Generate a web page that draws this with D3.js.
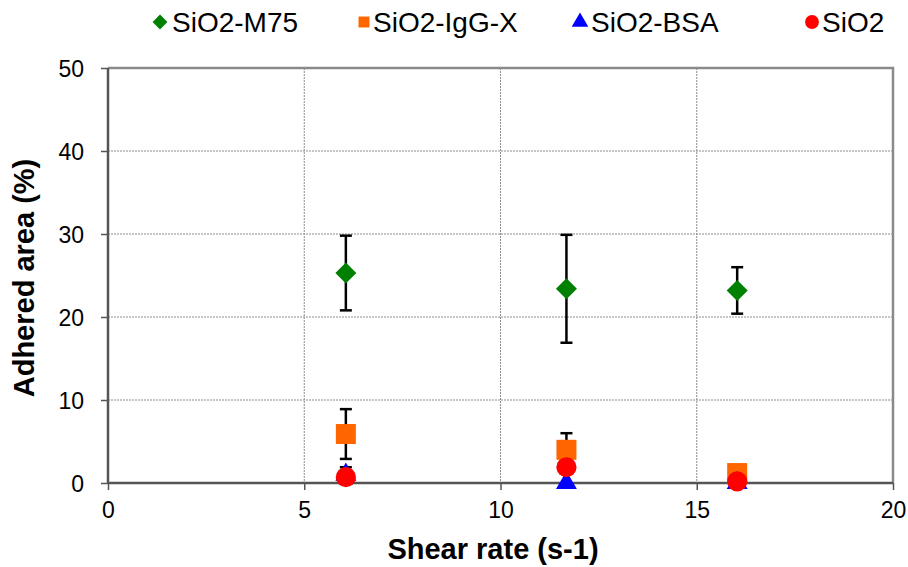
<!DOCTYPE html>
<html>
<head>
<meta charset="utf-8">
<script src="https://cdn.jsdelivr.net/npm/d3@7"></script>
<style>
  html, body { margin: 0; padding: 0; background: #fff; }
  svg { display: block; font-family: "Liberation Sans", Arial, sans-serif; }
</style>
</head>
<body>
<svg id="chart" width="908" height="567"></svg>
<script>
// Shear rates at which adhesion was measured (s-1)
const shearRates = [6.06, 11.68, 16.03];

// Adhered area (%) per surface, with standard deviations
const seriesNames = ["SiO2-M75", "SiO2-IgG-X", "SiO2-BSA", "SiO2"];
const m75Values = [25.3, 23.4, 23.2];
const m75Errors = [4.5, 6.5, 2.8];
const iggValues = [5.9, 4.0, 1.2];
const iggErrors = [3.0, 2.0, 0.5];
const bsaValues = [1.0, 0.0, 0.0];
const bsaErrors = [0.9, 0.0, 0.0];
const sio2Values = [0.7, 1.9, 0.2];
const sio2Errors = [0.3, 0.5, 0.2];

const xTicks = [0, 5, 10, 15, 20];
const yTicks = [0, 10, 20, 30, 40, 50];

// Square turned 45 degrees, as a d3 symbol type
const symbolRhombus = {
  draw(ctx, size) {
    const r = Math.sqrt(size / 2);
    ctx.moveTo(0, -r); ctx.lineTo(r, 0); ctx.lineTo(0, r); ctx.lineTo(-r, 0); ctx.closePath();
  }
};

const series = [
  { name: seriesNames[0], values: m75Values, errors: m75Errors, symbol: symbolRhombus, color: "#008000", size: 220, legendSize: 110 },
  { name: seriesNames[1], values: iggValues, errors: iggErrors, symbol: d3.symbolSquare, color: "#ff6600", size: 400, legendSize: 120 },
  { name: seriesNames[2], values: bsaValues, errors: bsaErrors, symbol: d3.symbolTriangle, color: "#0000ff", size: 190, legendSize: 120 },
  { name: seriesNames[3], values: sio2Values, errors: sio2Errors, symbol: d3.symbolCircle, color: "#ff0000", size: 320, legendSize: 150 }
];

const svg = d3.select("#chart");
const plot = { left: 108, right: 893, top: 68, bottom: 483 };

const x = d3.scaleLinear().domain([0, 20]).range([plot.left, plot.right]);
const y = d3.scaleLinear().domain([0, 50]).range([plot.bottom, plot.top]);

// Dotted grid
const grid = svg.append("g");
grid.selectAll("line.gx").data(xTicks.slice(1, -1)).join("line")
  .attr("x1", d => x(d)).attr("x2", d => x(d))
  .attr("y1", plot.top).attr("y2", plot.bottom)
  .attr("stroke", "#8c8c8c").attr("stroke-width", 1).attr("stroke-dasharray", "2,1");
grid.selectAll("line.gy").data(yTicks.slice(1, -1)).join("line")
  .attr("x1", plot.left).attr("x2", plot.right)
  .attr("y1", d => y(d)).attr("y2", d => y(d))
  .attr("stroke", "#8c8c8c").attr("stroke-width", 1).attr("stroke-dasharray", "2,1");

// Plot frame: light top/right border
svg.append("path")
  .attr("d", `M${plot.left},${plot.top}H${plot.right}V${plot.bottom}`)
  .attr("fill", "none").attr("stroke", "#8a8a8a").attr("stroke-width", 2.5);

// Axes
const xAxis = svg.append("g").attr("transform", `translate(0,${plot.bottom})`)
  .call(d3.axisBottom(x).tickValues(xTicks).tickSize(7).tickPadding(12));
const yAxis = svg.append("g").attr("transform", `translate(${plot.left},0)`)
  .call(d3.axisLeft(y).tickValues(yTicks).tickSize(7).tickPadding(17));

[xAxis, yAxis].forEach(ax => {
  ax.select(".domain").attr("stroke", "#555").attr("stroke-width", 2.5);
  ax.selectAll(".tick line").attr("stroke", "#555").attr("stroke-width", 1.5);
  ax.selectAll(".tick text").attr("fill", "#000")
    .style("font-family", "'Liberation Sans', Arial, sans-serif").style("font-size", "23px");
});
xAxis.select(".domain").attr("d", `M${plot.left},0H${plot.right}`);
yAxis.select(".domain").attr("d", `M0,${plot.top}V${plot.bottom}`);
yAxis.selectAll(".tick text").attr("dy", "0.35em");

// Axis titles
svg.append("text")
  .attr("x", 493).attr("y", 559)
  .attr("text-anchor", "middle")
  .style("font-size", "29px").style("font-weight", "bold")
  .text("Shear rate (s-1)");
svg.append("text")
  .attr("transform", "translate(34,278) rotate(-90)")
  .attr("text-anchor", "middle")
  .style("font-size", "29px").style("font-weight", "bold")
  .text("Adhered area (%)");

// Error bars and markers, one layer per series
series.forEach(s => {
  const g = svg.append("g");
  const pts = shearRates.map((r, i) => ({ x: r, v: s.values[i], e: s.errors[i] }));
  const eb = g.selectAll("g.err").data(pts.filter(p => p.e > 0)).join("g");
  eb.append("line")
    .attr("x1", d => x(d.x)).attr("x2", d => x(d.x))
    .attr("y1", d => y(d.v + d.e)).attr("y2", d => y(d.v - d.e))
    .attr("stroke", "#000").attr("stroke-width", 2.5);
  eb.selectAll("line.cap").data(d => [d.v + d.e, d.v - d.e].map(v => ({ x: d.x, v }))).join("line")
    .attr("x1", d => x(d.x) - 6).attr("x2", d => x(d.x) + 6)
    .attr("y1", d => y(d.v)).attr("y2", d => y(d.v))
    .attr("stroke", "#000").attr("stroke-width", 2.5);
  g.selectAll("path.mark").data(pts).join("path")
    .attr("transform", d => `translate(${x(d.x)},${y(d.v)})`)
    .attr("d", d3.symbol().type(s.symbol).size(s.size))
    .attr("fill", s.color);
});

// Legend
const legendPos = [{ m: 160, t: 172 }, { m: 364, t: 373 }, { m: 580, t: 591 }, { m: 812, t: 822 }];
series.forEach((s, i) => {
  const g = svg.append("g");
  g.append("path")
    .attr("transform", `translate(${legendPos[i].m},22)`)
    .attr("d", d3.symbol().type(s.symbol).size(s.legendSize))
    .attr("fill", s.color);
  g.append("text")
    .attr("x", legendPos[i].t).attr("y", 22).attr("dy", "0.35em")
    .style("font-size", "28px")
    .text(s.name);
});
</script>
</body>
</html>
